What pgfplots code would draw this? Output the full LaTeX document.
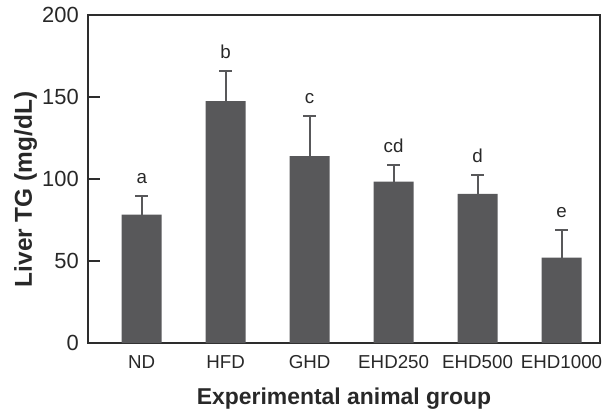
\documentclass[border=0pt]{standalone}
\usepackage{pgfplots}
\pgfplotsset{compat=1.18}
\usepackage{fontspec}
\setmainfont{Liberation Sans}
\definecolor{barc}{RGB}{88,88,90}
\definecolor{axc}{RGB}{45,45,45}
\definecolor{txt}{RGB}{40,40,40}

\pgfplotstableread{
x y e
0 78.3 11.4
1 147.5 18.5
2 114.0 24.4
3 98.4 9.9
4 90.9 11.7
5 52.0 16.6
}\bars

\pgfplotstableread{
x t l
0 89.7 a
1 166.0 b
2 138.4 c
3 108.3 cd
4 102.6 d
5 68.6 e
}\letters

\begin{document}
\begin{tikzpicture}[x=1bp,y=1bp]
\useasboundingbox (0,0) rectangle (603,410);
\begin{axis}[
  at={(88bp,67bp)}, anchor=south west,
  scale only axis, width=512bp, height=328bp,
  xmin=-0.64, xmax=5.458, ymin=0, ymax=200,
  clip=false,
  axis line style={axc, line width=1.6bp},
  xtick={0,1,2,3,4,5},
  xticklabels={ND,HFD,GHD,EHD250,EHD500,EHD1000},
  major x tick style={draw=none},
  ytick={0,50,100,150,200},
  ytick pos=left, tick align=inside, major tick length=12bp,
  major y tick style={axc, line width=1.6bp},
  /pgf/number format/assume math mode=true,
  yticklabel style={font=\fontsize{22}{26}\selectfont, text=txt, anchor=east, inner sep=0pt, xshift=-9bp},
  xticklabel style={font=\fontsize{18.8}{22}\selectfont, text=txt, anchor=base, yshift=-25bp},
  xlabel={Experimental animal group},
  xlabel style={font=\bfseries\fontsize{23}{27}\selectfont, text=txt, at={(axis description cs:0.5,-0.187)}, anchor=base},
  ylabel={Liver TG (mg/dL)},
  ylabel style={font=\bfseries\fontsize{24.5}{29}\selectfont, text=txt, at={(axis description cs:-0.1097,0.468)}, anchor=base},
]
\addplot[ybar, bar width=40bp, fill=barc, draw=none,
  error bars/.cd, y dir=plus, y explicit,
  error bar style={barc, line width=2bp},
  error mark options={barc, rotate=90, mark size=6.5bp, line width=2bp}]
  table[x=x, y=y, y error=e] {\bars};
\addplot[draw=none, mark=none, nodes near coords, point meta=explicit symbolic,
  every node near coord/.append style={anchor=base, yshift=12.5bp, font=\fontsize{18.8}{22}\selectfont, text=txt}]
  table[x=x, y=t, meta=l] {\letters};
\end{axis}
\end{tikzpicture}
\end{document}
